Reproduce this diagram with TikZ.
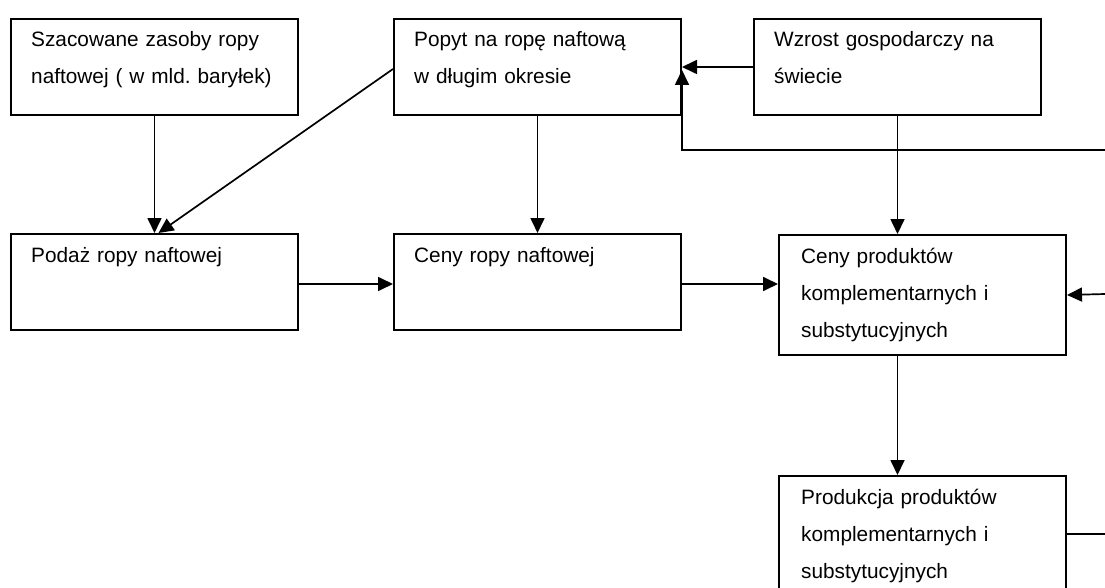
\documentclass[tikz,border=0pt]{standalone}
\usepackage{fontspec}
\setmainfont{Liberation Sans}
\usetikzlibrary{arrows.meta,calc}
\begin{document}
\begin{tikzpicture}[x=1pt,y=-1pt,
  box/.style={draw=black,line width=2pt,rectangle,anchor=north west,inner sep=0pt,minimum width=287pt},
  txt/.style={anchor=base west,inner sep=0pt,text width=280pt,align=left,font=\fontsize{20.8}{37}\selectfont\frenchspacing},
  arr/.style={line width=1.7pt,-{Triangle[length=15pt,width=14pt]}},
  ln/.style={line width=1.7pt}]
\useasboundingbox (0,0) rectangle (1105,588);
% boxes
\node[box,minimum height=96pt] (A) at (10,18) {};
\node[box,minimum height=96pt] (B) at (393,18) {};
\node[box,minimum height=96pt] (C) at (753,18) {};
\node[box,minimum height=96pt] (D) at (10,233) {};
\node[box,minimum height=96pt] (E) at (393,233) {};
\node[box,minimum height=120pt] (F) at (778,234) {};
\node[box,minimum height=120pt] (G) at (778,475) {};
% texts
\node[txt] (At) at ($(A.north west)+(21,29)$) {Szacowane zasoby ropy\\naftowej ( w mld. baryłek)};
\node[txt] (Bt) at ($(B.north west)+(21,29)$) {Popyt na ropę naftową\\w długim okresie};
\node[txt] (Ct) at ($(C.north west)+(21,29)$) {Wzrost gospodarczy na\\świecie};
\node[txt] (Dt) at ($(D.north west)+(21,29)$) {Podaż ropy naftowej};
\node[txt] (Et) at ($(E.north west)+(21,29)$) {Ceny ropy naftowej};
\node[txt] (Ft) at ($(F.north west)+(23,29)$) {Ceny produktów\\komplementarnych i\\substytucyjnych};
\node[txt] (Gt) at ($(G.north west)+(23,29)$) {Produkcja produktów\\komplementarnych i\\substytucyjnych};
% free ends
\coordinate (R1) at (1105,150);
\coordinate (R2) at (1105,294);
\coordinate (R3) at (1105,534);
% connectors
\draw[arr] (A.south) -- (D.north);
\draw[arr] ($(B.west)+(0,2)$) -- ($(D.north)+(4,0)$);
\draw[arr] (B.south) -- (E.north);
\draw[arr] (C.west) -- (B.east);
\draw[arr] (R1) -| ($(B.east)+(0,3)$);
\draw[arr] (C.south) -- (C.south |- F.north);
\draw[arr] ($(D.east)+(0,2)$) -- ($(E.west)+(0,2)$);
\draw[arr] ($(E.east)+(0,2)$) -- ($(E.east -| F.west)+(0,2)$);
\draw[arr] (R2) -- (F.east);
\draw[arr] (C.south |- F.south) -- (C.south |- G.north);
\draw[ln] (G.east |- R3) -- (R3);
\end{tikzpicture}
\end{document}
